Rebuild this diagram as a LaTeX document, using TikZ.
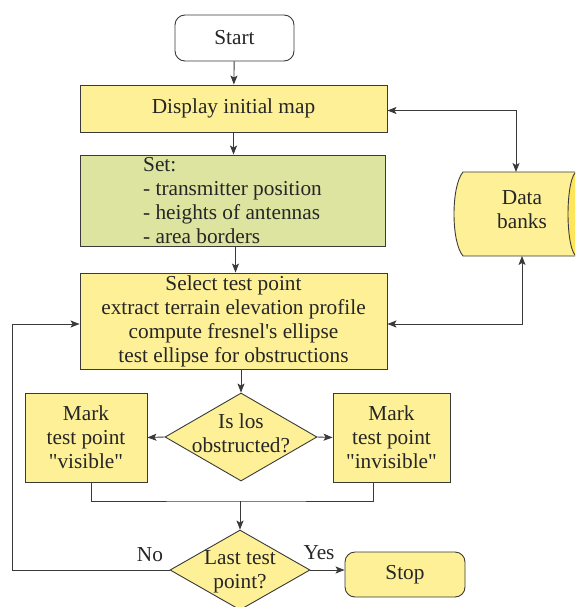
\documentclass[tikz,border=0pt]{standalone}
\usepackage{fontspec}
\setmainfont{Liberation Serif}
\usetikzlibrary{shapes.geometric,arrows.meta}
\definecolor{yel}{HTML}{FEF096}
\definecolor{grn}{HTML}{DCE4A0}
\definecolor{capc}{HTML}{FFE55A}
\definecolor{linec}{HTML}{3A3A3A}
\begin{document}
\begin{tikzpicture}[x=1pt,y=-1pt,
  font=\fontsize{21.3}{24}\selectfont, text=black!85,
  box/.style={draw=linec, line width=0.9pt, fill=yel, inner sep=0pt, align=center},
  dia/.style={draw=linec, line width=0.9pt, fill=yel, diamond, inner sep=0pt},
  arr/.style={-{Stealth[length=9pt,width=7pt,inset=2pt]}, draw=linec, line width=0.9pt},
  dbl/.style={{Stealth[length=9pt,width=7pt,inset=2pt]}-{Stealth[length=9pt,width=7pt,inset=2pt]}, draw=linec, line width=0.9pt},
  ln/.style={draw=linec, line width=0.9pt}]
\useasboundingbox (0,0) rectangle (575,607);
\clip (0,0) rectangle (575,607);

\node[box, fill=white, rounded corners=10pt, minimum width=119pt, minimum height=46pt] (start) at (234.5,38) {Start};
\node[box, minimum width=307pt, minimum height=47pt] (disp) at (233.5,108.5) {Display initial map};
\node[box, fill=grn, minimum width=305pt, minimum height=91pt, align=left] (set) at (232.5,200.5) {Set:\\- transmitter position\\- heights of antennas\\- area borders};
\node[box, minimum width=307pt, minimum height=96pt] (sel) at (233.5,321) {Select test point\\extract terrain elevation profile\\compute fresnel\textquotesingle s ellipse\\test ellipse for obstructions};
\node[dia, minimum width=152pt, minimum height=88pt] (d1) at (241,437) {};
\node[align=center] (d1t) at (241,433) {Is los\\obstructed?};
\node[box, minimum width=122pt, minimum height=89pt] (ml) at (86,437.5) {Mark\\test point\\\textquotedbl visible\textquotedbl};
\node[box, minimum width=117pt, minimum height=89pt] (mr) at (391.5,437.5) {Mark\\test point\\\textquotedbl invisible\textquotedbl};
\node[dia, minimum width=140pt, minimum height=80pt] (d2) at (240,570) {};
\node[align=center] (d2t) at (240,572) {Last test\\point?};
\node[box, rounded corners=10pt, minimum width=120pt, minimum height=45pt] (stop) at (405,574.5) {Stop};

% data banks
\fill[yel] (463,172) -- (577,172) -- (577,256) -- (463,256) .. controls (451,242) and (451,186) .. (463,172);
\draw[ln] (577,172) -- (463,172) .. controls (451,186) and (451,242) .. (463,256) -- (577,256);
\draw[ln, fill=capc] (577,214) ellipse [x radius=9, y radius=42];
\node[align=center] (db) at (522,210) {Data\\banks};
\coordinate (dbt) at (516,172);
\coordinate (dbb) at (522,256);

\draw[arr] (start) -- (disp);
\draw[arr] (disp.south) -- (disp.south |- set.north);
\draw[arr] ([xshift=3pt]set.south) -- ([xshift=3pt]set.south |- sel.north);
\draw[arr] (sel.south -| d1.north) -- (d1.north);
\draw[arr] (d1.west) -- (ml.east);
\draw[arr] (d1.east) -- (mr.west);
\coordinate (j) at (240,501);
\draw[ln] ([xshift=5pt]ml.south) |- (j) -| ([xshift=-18pt]mr.south);
\draw[arr] (j) -- (d2.north);
\draw[arr] (d2.east) -- (d2.east -| stop.west);
\coordinate (lp) at (12,570);
\draw[arr] (d2.west) -- (lp) |- ([yshift=-3pt]sel.west);
\draw[dbl] ([yshift=-2pt]disp.east) -| (dbt);
\draw[dbl] ([yshift=-3pt]sel.east) -| (dbb);

\node (no) at (150,555) {No};
\node (yes) at (319,553) {Yes};
\end{tikzpicture}
\end{document}
